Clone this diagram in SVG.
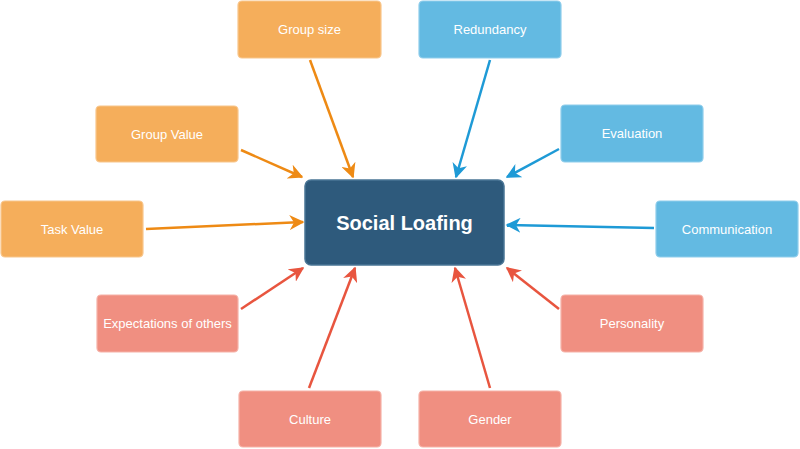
<svg xmlns="http://www.w3.org/2000/svg" width="800" height="449" viewBox="0 0 800 449">
<style>
.n rect{stroke-width:1.2}
.o rect{fill:#F5AE5B;stroke:#F8C68C}
.b rect{fill:#63BAE2;stroke:#8FCDEB}
.r rect{fill:#F08F81;stroke:#F5B2A8}
.n text{font-family:"Liberation Sans",Arial,sans-serif;font-size:13px;fill:#FFFFFF;text-anchor:middle;dominant-baseline:central}
.c rect{fill:#2E5A7C;stroke:#4A7595;stroke-width:1.5}
.c text{font-family:"Liberation Sans",Arial,sans-serif;font-size:20px;font-weight:bold;fill:#FFFFFF;text-anchor:middle;dominant-baseline:central}
.e line{stroke-width:2.5;fill:none}
.eo{stroke:#EE8A14}
.eb{stroke:#1E9AD6}
.er{stroke:#E8553F}
</style>
<defs>
<marker id="ao" viewBox="0 0 10 10" refX="9" refY="5" markerWidth="6" markerHeight="6" markerUnits="strokeWidth" orient="auto"><path d="M0,0 L10,5 L0,10 L3,5 Z" fill="#EE8A14"/></marker>
<marker id="ab" viewBox="0 0 10 10" refX="9" refY="5" markerWidth="6" markerHeight="6" markerUnits="strokeWidth" orient="auto"><path d="M0,0 L10,5 L0,10 L3,5 Z" fill="#1E9AD6"/></marker>
<marker id="ar" viewBox="0 0 10 10" refX="9" refY="5" markerWidth="6" markerHeight="6" markerUnits="strokeWidth" orient="auto"><path d="M0,0 L10,5 L0,10 L3,5 Z" fill="#E8553F"/></marker>
</defs>
<g id="connectors" class="e">
<line class="eo" x1="310" y1="60" x2="353" y2="177" marker-end="url(#ao)"/>
<line class="eo" x1="241" y1="150" x2="302" y2="177" marker-end="url(#ao)"/>
<line class="eo" x1="146" y1="229" x2="303" y2="222" marker-end="url(#ao)"/>
<line class="eb" x1="490" y1="60" x2="456" y2="177" marker-end="url(#ab)"/>
<line class="eb" x1="559" y1="149" x2="507" y2="177" marker-end="url(#ab)"/>
<line class="eb" x1="654" y1="228" x2="507" y2="225" marker-end="url(#ab)"/>
<line class="er" x1="241" y1="309" x2="303" y2="268" marker-end="url(#ar)"/>
<line class="er" x1="309" y1="388" x2="355" y2="268" marker-end="url(#ar)"/>
<line class="er" x1="490" y1="388" x2="455" y2="268" marker-end="url(#ar)"/>
<line class="er" x1="559" y1="309" x2="507" y2="268" marker-end="url(#ar)"/>
</g>
<g id="center" class="c"><rect x="305" y="180" width="199" height="85" rx="6"/><text x="404.5" y="223">Social Loafing</text></g>
<g id="group-size" class="n o"><rect x="238" y="1" width="143" height="57" rx="4"/><text x="309.5" y="29.5">Group size</text></g>
<g id="redundancy" class="n b"><rect x="419" y="1" width="142" height="57" rx="4"/><text x="490" y="29.5">Redundancy</text></g>
<g id="group-value" class="n o"><rect x="96" y="106" width="142" height="56" rx="4"/><text x="167" y="134">Group Value</text></g>
<g id="evaluation" class="n b"><rect x="561" y="105" width="142" height="57" rx="4"/><text x="632" y="133.5">Evaluation</text></g>
<g id="task-value" class="n o"><rect x="1" y="201" width="142" height="56" rx="4"/><text x="72" y="229">Task Value</text></g>
<g id="communication" class="n b"><rect x="656" y="201" width="142" height="56" rx="4"/><text x="727" y="229">Communication</text></g>
<g id="expectations" class="n r"><rect x="97" y="295" width="141" height="57" rx="4"/><text x="167.5" y="323.5">Expectations of others</text></g>
<g id="personality" class="n r"><rect x="561" y="295" width="142" height="57" rx="4"/><text x="632" y="323.5">Personality</text></g>
<g id="culture" class="n r"><rect x="239" y="391" width="142" height="56" rx="4"/><text x="310" y="419">Culture</text></g>
<g id="gender" class="n r"><rect x="419" y="391" width="142" height="56" rx="4"/><text x="490" y="419">Gender</text></g>
</svg>
